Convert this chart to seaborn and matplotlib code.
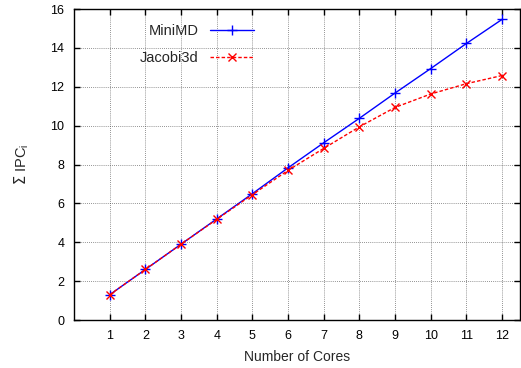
import matplotlib
matplotlib.use("Agg")
import matplotlib.pyplot as plt
import seaborn as sns
import pandas as pd

cores = [1, 2, 3, 4, 5, 6, 7, 8, 9, 10, 11, 12]
minimd = [1.3, 2.6, 3.9, 5.2, 6.5, 7.83, 9.12, 10.38, 11.68, 12.94, 14.23, 15.47]
jacobi = [1.3, 2.6, 3.9, 5.18, 6.45, 7.7, 8.83, 9.94, 10.94, 11.63, 12.16, 12.58]

sns.set_style("ticks")
plt.rcParams['font.family'] = ['Liberation Sans', 'DejaVu Sans']

fig = plt.figure(figsize=(5.21, 3.68), dpi=100)
ax = fig.add_axes([0.142, 0.1304, 0.856, 0.845])

df = pd.DataFrame({"cores": cores, "MiniMD": minimd, "Jacobi3d": jacobi})
sns.lineplot(data=df, x="cores", y="MiniMD", ax=ax, color="#0000ff", lw=1.0,
             marker="+", markersize=7.5, markeredgewidth=1.0,
             markeredgecolor="#0000ff", label="MiniMD")
sns.lineplot(data=df, x="cores", y="Jacobi3d", ax=ax, color="#ff0000", lw=1.0,
             linestyle=(0, (2.5, 1.5)), marker="x", markersize=6, markeredgewidth=1.0,
             markeredgecolor="#ff0000", label="Jacobi3d")

ax.set_xlim(0, 12.5)
ax.set_ylim(0, 16)
ax.set_xticks(cores)
ax.set_yticks(range(0, 17, 2))
ax.tick_params(direction="in", length=4, width=1, labelsize=9, top=True, right=True,
               colors="black", pad=7)
ax.grid(True, color="#333333", linestyle=(0, (1, 1.5)), linewidth=0.6, alpha=0.7)
for s in ax.spines.values():
    s.set_linewidth(1.0)
    s.set_color("black")

ax.set_xlabel("Number of Cores", fontsize=10, labelpad=6)
ax.set_ylabel(r"$\Sigma$ IPC$_\mathregular{i}$", fontsize=10.5, labelpad=14)

leg = ax.legend(loc="upper left", bbox_to_anchor=(0.115, 1.0), frameon=False,
                markerfirst=False, fontsize=10.5, handlelength=3.0,
                labelspacing=0.95, borderaxespad=0.6)

fig.savefig("out.png", dpi=100)
